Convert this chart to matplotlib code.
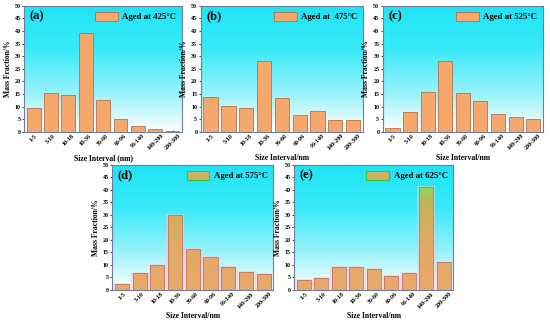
import matplotlib.pyplot as plt
import matplotlib.colors as mcolors
import numpy as np
from matplotlib.patches import Patch

plt.rcParams['font.family'] = ['Liberation Serif', 'DejaVu Serif']
plt.rcParams['font.weight'] = 'bold'

sizes = ['1-5', '5-10', '10-18', '18-36', '36-60', '60-96', '96-140', '140-200', '200-300']
frac_425 = [9.3, 15.4, 14.6, 39.4, 12.6, 5.2, 2.2, 1.1, 0.4]
frac_475 = [14.0, 10.3, 9.4, 28.0, 13.6, 6.7, 8.4, 4.7, 4.7]
frac_525 = [1.7, 8.0, 16.0, 28.3, 15.4, 12.3, 7.0, 5.8, 5.3]
frac_575 = [2.2, 6.6, 10.0, 30.0, 16.2, 13.0, 9.0, 7.0, 6.3]
frac_625 = [4.0, 4.6, 9.3, 9.3, 8.3, 5.5, 6.7, 41.0, 11.2]

panels = [
    ('(a)', frac_425, 'Aged at 425°C', 'Size Interval (nm)', False),
    ('(b)', frac_475, 'Aged at  475°C', 'Size Interval/nm', False),
    ('(c)', frac_525, 'Aged at 525°C', 'Size Interval/nm', False),
    ('(d)', frac_575, 'Aged at 575°C', 'Size Interval/nm', True),
    ('(e)', frac_625, 'Aged at 625°C', 'Size Interval/nm', True),
]
boxes = [
    [0.044, 0.593, 0.287, 0.389],
    [0.365, 0.593, 0.295, 0.389],
    [0.696, 0.593, 0.291, 0.389],
    [0.204, 0.105, 0.293, 0.386],
    [0.535, 0.105, 0.289, 0.386],
]

bg = mcolors.LinearSegmentedColormap.from_list(
    'bg', [(0, '#ffffff'), (0.3, '#9af3fb'), (0.65, '#3aeaf8'), (1, '#1ee4f6')])
barmap = mcolors.LinearSegmentedColormap.from_list(
    'bar', [(0, '#e9a86a'), (0.4, '#e2ab66'), (0.65, '#d0b05c'), (0.82, '#b8b85a'),
            (0.9, '#8fd55a'), (1, '#7ee05a')])

fig = plt.figure(figsize=(5.5, 3.24), dpi=100)
x = np.arange(len(sizes))
for (tag, vals, lab, xlab, grad), box in zip(panels, boxes):
    ax = fig.add_axes(box)
    grid = np.linspace(0, 1, 256).reshape(-1, 1)
    ax.imshow(grid, cmap=bg, origin='lower', extent=[0, 1, 0, 1], transform=ax.transAxes,
              aspect='auto', zorder=0)
    if grad:
        ax.bar(x, [v + 0.4 for v in vals], width=1.0, color='#f4c6e6', alpha=0.55,
               zorder=1, linewidth=0)
        bars = ax.bar(x, vals, width=0.8, facecolor='none', edgecolor='#c8746a',
                      linewidth=0.6, zorder=3)
        g = np.linspace(0, 1, 256).reshape(-1, 1)
        for b in bars:
            im = ax.imshow(g, cmap=barmap, origin='lower', extent=[-0.55, 8.55, 0, 44],
                           aspect='auto', zorder=2)
            im.set_clip_path(b)
        handle = Patch(facecolor='#cdb060', edgecolor='#3cc83c', linewidth=0.8)
    else:
        ax.bar(x, vals, width=0.8, color='#f6a86c', edgecolor='#b8714a',
               linewidth=0.6, zorder=2)
        handle = Patch(facecolor='#f6a86c', edgecolor='#b8714a', linewidth=0.6)
    ax.set_xlim(-0.55, 8.55)
    ax.set_ylim(0, 50)
    ax.set_xticks(x)
    ax.set_xticklabels(sizes, rotation=45, fontsize=4.3, fontweight='bold')
    ax.set_yticks(np.arange(0, 51, 5))
    ax.tick_params(axis='y', labelsize=4.3, length=1.5, width=0.5, pad=1)
    ax.tick_params(axis='x', length=1.5, width=0.5, pad=1, direction='in')
    ax.set_xlabel(xlab, fontsize=5.5, fontweight='bold', labelpad=2)
    ax.set_ylabel('Mass Fraction/%', fontsize=5.5, fontweight='bold', labelpad=2)
    for s in ax.spines.values():
        s.set_color('#6f7f9a')
        s.set_linewidth(0.8)
    ax.text(0.035, 0.965, tag, transform=ax.transAxes, fontsize=9, fontweight='bold',
            va='top', ha='left', zorder=5)
    leg = ax.legend([handle], [lab], loc='upper right', frameon=False,
                    handlelength=2.6, handleheight=1.3, handletextpad=0.5,
                    borderaxespad=0.25, prop={'weight': 'bold', 'size': 6.3})
    leg.set_zorder(5)

fig.savefig('out.png', dpi=100)
